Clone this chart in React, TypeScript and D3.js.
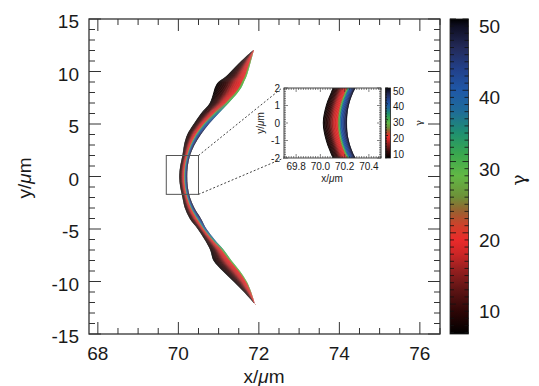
import React from 'react';
import * as d3 from 'd3';

// ---- data ----
const bandY = [12.15, 11.5, 10.5, 9.5, 9.0, 8.5, 8.0, 7.0, 6.0, 5.0, 4.0, 3.0, 2.0, 1.0, 0, -1, -2, -3, -4, -5, -6, -7, -8, -9, -10, -11, -12.2];
const bandLeft = [71.89, 71.70, 71.43, 71.17, 70.99, 70.91, 70.87, 70.78, 70.56, 70.38, 70.22, 70.14, 70.10, 70.045, 70.02, 70.045, 70.10, 70.16, 70.28, 70.48, 70.65, 70.79, 70.87, 71.10, 71.37, 71.63, 71.91];
const bandRight = [71.89, 71.84, 71.77, 71.69, 71.63, 71.57, 71.48, 71.25, 71.00, 70.76, 70.56, 70.40, 70.29, 70.235, 70.22, 70.235, 70.29, 70.40, 70.56, 70.70, 70.90, 71.13, 71.32, 71.53, 71.70, 71.81, 71.91];
// gamma at the outer (right) edge of the band
const edgeGamma = [21, 25, 29, 30, 30, 31, 31, 33, 40, 46, 49, 50, 50, 50, 50, 50, 50, 50, 49, 46, 40, 33, 31, 30, 29, 25, 21];
// share of the band thickness holding the hot (gamma > 19) layer
const hotFrac = [0.15, 0.15, 0.12, 0.1, 0.1, 0.1, 0.12, 0.18, 0.3, 0.38, 0.4, 0.4, 0.4, 0.4, 0.4, 0.4, 0.4, 0.4, 0.4, 0.36, 0.28, 0.18, 0.12, 0.1, 0.1, 0.12, 0.15];
const gammaMin = 6;

const xTicks = [68, 70, 72, 74, 76];
const yTicks = [-15, -10, -5, 0, 5, 10, 15];
const cbTicks = [10, 20, 30, 40, 50];
const insetXTicks = [69.8, 70.0, 70.2, 70.4];
const insetYTicks = [-2, -1, 0, 1, 2];
const zoomBoxX = [69.7, 70.5];
const zoomBoxY = [-1.7, 2.0];

// colour table (gamma -> colour)
const cmapV = [5.8, 9, 12, 15, 17, 19, 21, 23, 25, 28, 31, 34, 37, 40, 43, 46, 49, 50];
const cmapC = ['#000000', '#2e0606', '#5e1414', '#9a2020', '#cc2626', '#ea2a2a', '#d0402a', '#9a6030', '#6e9038', '#62b845', '#3aa84e', '#1f9070', '#1f6c98', '#1f58a8', '#22408a', '#232a58', '#0e0e22', '#000000'];
// cold-layer and hot-layer profiles across the thickness
const coldU = [0, 0.4, 0.7, 1];
const coldG = [gammaMin, 9.5, 16, 19];
const hotT = [0, 0.2, 0.375, 0.75, 1];
const hotQ = [0, 0.35, 0.68, 0.84, 1];

const K = 40;
const FONT = 'Liberation Sans, Arial, Helvetica, sans-serif';
const TXT = '#1a1a1a';
const AX = '#333';

const cmap = d3.scaleLinear<string>().domain(cmapV).range(cmapC).interpolate(d3.interpolateRgb).clamp(true);
const hotProf = d3.scaleLinear().domain(hotT).range(hotQ).clamp(true);
const coldProf = d3.scaleLinear().domain(coldU).range(coldG).clamp(true);

function gammaAt(f: number, j: number) {
  const h = hotFrac[j];
  const c = 1 - h;
  if (f <= c) return coldProf(f / c);
  const t = (f - c) / h;
  return 19 + (edgeGamma[j] - 19) * hotProf(t);
}

function Band({ xs, ys, prefix }: any) {
  const y0 = ys(bandY[0]);
  const y1 = ys(bandY[bandY.length - 1]);
  const layers = d3.range(K).map((i) => {
    const f0 = i / K;
    const f1 = Math.min(1, (i + 1.6) / K);
    const fm = (i + 0.5) / K;
    const pts = bandY.map((yv, j) => ({
      y: yv,
      a: bandLeft[j] + (bandRight[j] - bandLeft[j]) * f0,
      b: bandLeft[j] + (bandRight[j] - bandLeft[j]) * f1,
    }));
    const area = d3.area<any>().y((d) => ys(d.y)).x0((d) => xs(d.a)).x1((d) => xs(d.b)).curve(d3.curveCatmullRom);
    const stops = bandY.map((yv, j) => ({
      off: (ys(yv) - y0) / (y1 - y0),
      col: cmap(gammaAt(fm, j)),
    }));
    return { id: `${prefix}-l${i}`, d: area(pts) as string, stops };
  });
  return (
    <g>
      <defs>
        {layers.map((l) => (
          <linearGradient key={l.id} id={l.id} gradientUnits="userSpaceOnUse" x1={0} x2={0} y1={y0} y2={y1}>
            {l.stops.map((s, k) => (
              <stop key={k} offset={s.off} stopColor={s.col} />
            ))}
          </linearGradient>
        ))}
      </defs>
      {layers.map((l) => (
        <path key={l.id} d={l.d} fill={`url(#${l.id})`} />
      ))}
    </g>
  );
}

function ColorBar({ x, w, scale, id, ticksLeft, ticksRight, minorLen, majorLen }: any) {
  const [lo, hi] = scale.domain();
  const yTop = scale(hi), yBot = scale(lo);
  const minors = d3.range(Math.ceil(lo), hi + 0.001, 1);
  return (
    <g>
      <defs>
        <linearGradient id={id} gradientUnits="userSpaceOnUse" x1={0} x2={0} y1={yBot} y2={yTop}>
          {cmapV.map((v, k) => (
            <stop key={k} offset={(v - lo) / (hi - lo)} stopColor={cmapC[k]} />
          ))}
        </linearGradient>
      </defs>
      <rect x={x} y={yTop} width={w} height={yBot - yTop} fill={`url(#${id})`} stroke="#222" strokeWidth={0.8} />
      {minors.map((v) => {
        const len = v % 10 === 0 ? majorLen : minorLen;
        const yy = scale(v);
        return (
          <g key={v}>
            {ticksLeft && <line x1={x} x2={x + len} y1={yy} y2={yy} stroke="#111" strokeWidth={0.8} />}
            {ticksRight && <line x1={x + w - len} x2={x + w} y1={yy} y2={yy} stroke="#111" strokeWidth={0.8} />}
          </g>
        );
      })}
    </g>
  );
}

export default function App() {
  const xs = d3.scaleLinear().domain([67.78, 76.5]).range([89, 440]);
  const ys = d3.scaleLinear().domain([-15, 15]).range([334, 19]);
  const cb = d3.scaleLinear().domain([5.8, 50]).range([334, 19]);

  const ixs = d3.scaleLinear().domain([69.7, 70.5]).range([284, 381]);
  const iys = d3.scaleLinear().domain([-2, 2]).range([158, 88]);
  const icb = d3.scaleLinear().domain([5.8, 50]).range([158, 88]);

  const [L, R] = xs.range();
  const [B, T] = ys.range();
  const xMinor = d3.range(68, 76.51, 0.5);
  const yMinor = d3.range(-15, 15.01, 1);

  const [iL, iR] = ixs.range();
  const [iB, iT] = iys.range();
  const ixMinor = d3.range(69.7, 70.501, 0.02);
  const iyMinor = d3.range(-2, 2.001, 0.1);

  const bx0 = xs(zoomBoxX[0]), bx1 = xs(zoomBoxX[1]);
  const by0 = ys(zoomBoxY[1]), by1 = ys(zoomBoxY[0]);

  return (
    <svg width={539} height={386} style={{ position: 'absolute', left: 0, top: 0 }} fontFamily={FONT}>
      <rect x={0} y={0} width={539} height={386} fill="#fff" />
      {/* main band */}
      <Band xs={xs} ys={ys} prefix="main" />

      {/* zoom box and leader lines */}
      <rect x={bx0} y={by0} width={bx1 - bx0} height={by1 - by0} fill="none" stroke="#555" strokeWidth={1} />
      <line x1={bx1} y1={by0} x2={iL - 2} y2={iT} stroke="#444" strokeWidth={1} strokeDasharray="2,2" />
      <line x1={bx1} y1={by1} x2={iL} y2={iB} stroke="#444" strokeWidth={1} strokeDasharray="2,2" />

      {/* main frame + ticks */}
      <rect x={L} y={T} width={R - L} height={B - T} fill="none" stroke={AX} strokeWidth={1.3} />
      {xMinor.map((v) => {
        const len = xTicks.includes(v) ? 12 : 6;
        const px = xs(v);
        return (
          <g key={'xm' + v}>
            <line x1={px} x2={px} y1={B} y2={B - len} stroke={AX} strokeWidth={1} />
            <line x1={px} x2={px} y1={T} y2={T + len} stroke={AX} strokeWidth={1} />
          </g>
        );
      })}
      {yMinor.map((v) => {
        const len = yTicks.includes(v) ? 12 : 6;
        const py = ys(v);
        return (
          <g key={'ym' + v}>
            <line x1={L} x2={L + len} y1={py} y2={py} stroke={AX} strokeWidth={1} />
            <line x1={R} x2={R - len} y1={py} y2={py} stroke={AX} strokeWidth={1} />
          </g>
        );
      })}
      {xTicks.map((v) => (
        <text key={'xt' + v} x={xs(v)} y={360} fontSize={19} textAnchor="middle" fill={TXT}>{v}</text>
      ))}
      {yTicks.map((v) => (
        <text key={'yt' + v} x={79} y={ys(v) + 9} fontSize={19} textAnchor="end" fill={TXT}>{v}</text>
      ))}
      <text x={264} y={383} fontSize={19} textAnchor="middle" fill={TXT}>
        x/<tspan fontStyle="italic">μ</tspan>m
      </text>
      <text transform="translate(31,178) rotate(-90)" fontSize={19} textAnchor="middle" fill={TXT}>
        y/<tspan fontStyle="italic">μ</tspan>m
      </text>

      {/* main colour bar */}
      <ColorBar x={450} w={18.5} scale={cb} id="cbmain" ticksLeft ticksRight minorLen={4} majorLen={6} />
      {cbTicks.map((v) => (
        <text key={'cb' + v} x={479} y={cb(v) + 14} fontSize={19} fill={TXT}>{v}</text>
      ))}
      <text transform="translate(525,180) rotate(-90)" fontSize={19} textAnchor="middle" fill={TXT} fontFamily="DejaVu Serif, serif">γ</text>

      {/* inset */}
      <defs>
        <clipPath id="insetClip">
          <rect x={iL} y={iT} width={iR - iL} height={iB - iT} />
        </clipPath>
      </defs>
      <rect x={iL} y={iT} width={iR - iL} height={iB - iT} fill="#fff" />
      <g clipPath="url(#insetClip)">
        <Band xs={ixs} ys={iys} prefix="inset" />
      </g>
      <rect x={iL} y={iT} width={iR - iL} height={iB - iT} fill="none" stroke={AX} strokeWidth={0.9} />
      {ixMinor.map((v, k) => {
        const major = insetXTicks.some((t) => Math.abs(t - v) < 1e-6);
        const len = major ? 4 : 2;
        const px = ixs(v);
        return (
          <g key={'ixm' + k}>
            <line x1={px} x2={px} y1={iB} y2={iB - len} stroke={AX} strokeWidth={0.6} />
            <line x1={px} x2={px} y1={iT} y2={iT + len} stroke={AX} strokeWidth={0.6} />
          </g>
        );
      })}
      {iyMinor.map((v, k) => {
        const major = insetYTicks.some((t) => Math.abs(t - v) < 1e-6);
        const len = major ? 4 : 2;
        const py = iys(v);
        return (
          <g key={'iym' + k}>
            <line x1={iL} x2={iL + len} y1={py} y2={py} stroke={AX} strokeWidth={0.6} />
            <line x1={iR} x2={iR - len} y1={py} y2={py} stroke={AX} strokeWidth={0.6} />
          </g>
        );
      })}
      {insetXTicks.map((v) => (
        <text key={'ixt' + v} x={ixs(v)} y={170} fontSize={10} textAnchor="middle" fill={TXT}>{v.toFixed(1)}</text>
      ))}
      {insetYTicks.map((v) => (
        <text key={'iyt' + v} x={280} y={iys(v) + 3.6} fontSize={10} textAnchor="end" fill={TXT}>{v}</text>
      ))}
      <text x={332} y={182} fontSize={10} textAnchor="middle" fill={TXT}>
        x/<tspan fontStyle="italic">μ</tspan>m
      </text>
      <text transform="translate(264,123) rotate(-90)" fontSize={10} textAnchor="middle" fill={TXT}>
        y/<tspan fontStyle="italic">μ</tspan>m
      </text>
      <ColorBar x={385.5} w={5} scale={icb} id="cbinset" ticksLeft minorLen={1.5} majorLen={2.5} />
      {cbTicks.map((v) => (
        <text key={'icb' + v} x={393} y={icb(v) + 6.6} fontSize={10} fill={TXT}>{v}</text>
      ))}
      <text transform="translate(422,123) rotate(-90)" fontSize={10} textAnchor="middle" fill={TXT} fontFamily="DejaVu Serif, serif">γ</text>
    </svg>
  );
}
